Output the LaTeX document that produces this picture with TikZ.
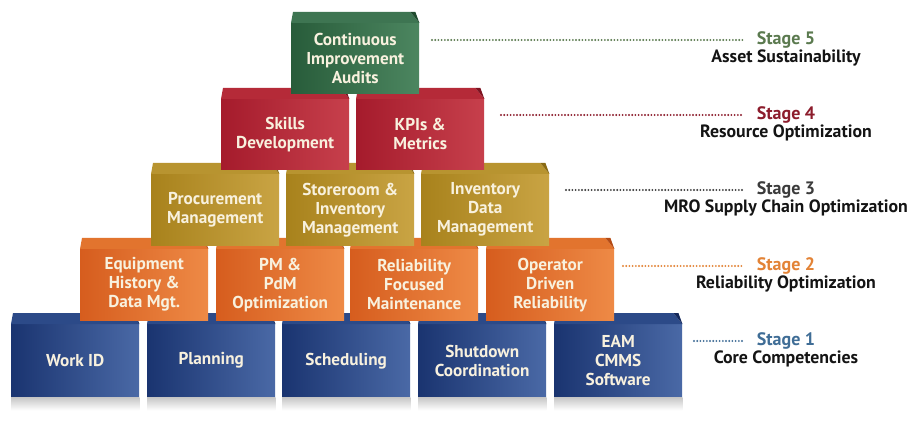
\documentclass[tikz,border=0pt]{standalone}
\usepackage{fontspec}
\setmainfont{PT Sans}
\usetikzlibrary{calc}
\definecolor{txtc}{HTML}{F8F1DE}
\definecolor{gL}{HTML}{285C3A}\definecolor{gR}{HTML}{4C8660}\definecolor{gT}{HTML}{3E7552}\definecolor{gS}{HTML}{1F4A2E}
\definecolor{rL}{HTML}{A51B2C}\definecolor{rR}{HTML}{C7404C}\definecolor{rT}{HTML}{B52A38}\definecolor{rS}{HTML}{7E1220}
\definecolor{yL}{HTML}{A8821C}\definecolor{yR}{HTML}{C9A444}\definecolor{yT}{HTML}{B89430}\definecolor{yS}{HTML}{8A6A14}
\definecolor{oL}{HTML}{D65D1E}\definecolor{oR}{HTML}{EE8A46}\definecolor{oT}{HTML}{E2742E}\definecolor{oS}{HTML}{B44A14}
\definecolor{bL}{HTML}{1A3470}\definecolor{bR}{HTML}{4A69A6}\definecolor{bT}{HTML}{2C4A88}\definecolor{bS}{HTML}{13275A}
\definecolor{st5}{HTML}{5B7A4F}\definecolor{st4}{HTML}{8C1C2C}\definecolor{st3}{HTML}{3B3B3B}
\definecolor{st2}{HTML}{E38336}\definecolor{st1}{HTML}{3F6D96}
\tikzset{
  blockfront/.style={inner sep=0pt, minimum width=128pt, anchor=north west,
    text=txtc, align=center, font=\fontsize{17.2}{19}\selectfont\bfseries},
  stagelbl/.style={font=\fontsize{18}{19}\selectfont\bfseries, inner sep=2pt},
  stagesub/.style={font=\fontsize{17.8}{19}\selectfont\bfseries, text=black!92, inner sep=2pt},
  dots/.style={line width=2.1pt, line cap=round, dash pattern=on 0pt off 3.2pt}
}
% name, x1, ytop, front height, color prefix, text
\newcommand\blk[6]{%
  \node[blockfront, left color=#5L, right color=#5R, minimum height=#4pt] (#1) at (#2,#3+11) {#6};
  \fill[#5T] (#1.north west) -- ++(2,-11) -- ($(#1.north east)+(-9,-11)$) -- (#1.north east) -- cycle;
  \fill[#5S] ($(#1.north east)+(-9,-11)$) -- (#1.north east) -- ($(#1.north east)+(-4,-11)$) -- cycle;
}
\newcommand\shadowblk[1]{%
  \fill[top color=black!22, bottom color=white] (#1.south west) rectangle ($(#1.south east)+(0,13)$);
}
\begin{document}
\begin{tikzpicture}[x=1pt,y=-1pt]
\useasboundingbox[fill=white] (0,0) rectangle (920,427);
% Row 1
\blk{b1}{11}{313}{73}{b}{Work ID}
\blk{b2}{147}{313}{73}{b}{Planning}
\blk{b3}{282}{313}{73}{b}{Scheduling}
\blk{b4}{418}{313}{73}{b}{Shutdown\\Coordination}
\blk{b5}{554}{313}{73}{b}{EAM\\CMMS\\Software}
\foreach \n in {b1,b2,b3,b4,b5}{\shadowblk{\n}}
% Row 2
\blk{o1}{80}{238}{71}{o}{Equipment\\History \&\\Data Mgt.}
\blk{o2}{216}{238}{71}{o}{PM \&\\PdM\\Optimization}
\blk{o3}{350}{238}{71}{o}{Reliability\\Focused\\Maintenance}
\blk{o4}{486}{238}{71}{o}{Operator\\Driven\\Reliability}
% Row 3
\blk{y1}{151}{163}{71}{y}{Procurement\\Management}
\blk{y2}{286}{163}{71}{y}{Storeroom \&\\Inventory\\Management}
\blk{y3}{421}{163}{71}{y}{Inventory\\Data\\Management}
% Row 4
\blk{r1}{221}{88}{70}{r}{Skills\\Development}
\blk{r2}{356}{88}{70}{r}{KPIs \&\\Metrics}
% Row 5
\blk{g1}{291}{12}{70}{g}{Continuous\\Improvement\\Audits}
% Stage labels
\node[stagelbl, text=st5] (s5) at (786,40) {Stage 5};
\node[stagesub] (t5) at (786,58) {Asset Sustainability};
\node[stagelbl, text=st4] (s4) at (786,115) {Stage 4};
\node[stagesub] (t4) at (786,133) {Resource Optimization};
\node[stagelbl, text=st3] (s3) at (786,190) {Stage 3};
\node[stagesub] (t3) at (786,208) {MRO Supply Chain Optimization};
\node[stagelbl, text=st2] (s2) at (786,266) {Stage 2};
\node[stagesub] (t2) at (786,284) {Reliability Optimization};
\node[stagelbl, text=st1] (s1) at (786,341) {Stage 1};
\node[stagesub] (t1) at (786,359) {Core Competencies};
% dotted leaders
\coordinate (d5) at (432,40);
\coordinate (d4) at (501,115);
\coordinate (d3) at (566,190);
\coordinate (d2) at (623,266);
\coordinate (d1) at (694,341);
\draw[dots, st5] (d5) -- ($(s5.west)+(-12,0)$);
\draw[dots, st4] (d4) -- ($(s4.west)+(-12,0)$);
\draw[dots, st3] (d3) -- ($(s3.west)+(-12,0)$);
\draw[dots, st2] (d2) -- ($(s2.west)+(-12,0)$);
\draw[dots, st1] (d1) -- ($(s1.west)+(-12,0)$);
\end{tikzpicture}
\end{document}
